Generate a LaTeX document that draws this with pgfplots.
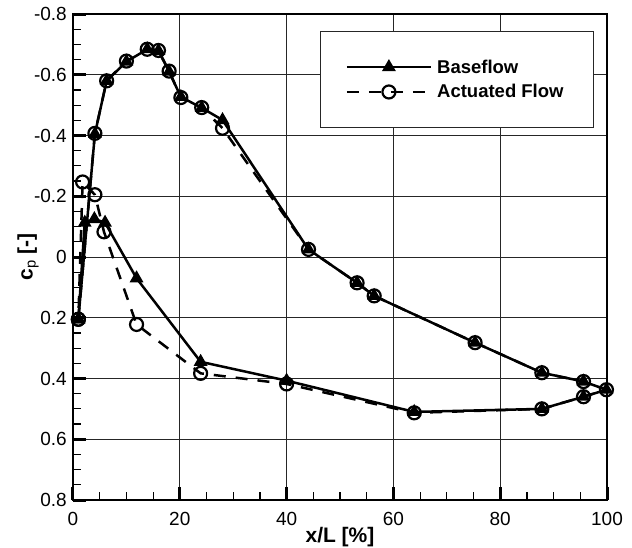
\documentclass[border=0pt]{standalone}
\usepackage{fontspec}
\setmainfont{Liberation Sans}
\usepackage{pgfplots}
\pgfplotsset{compat=1.18}
\begin{document}
\begin{tikzpicture}
\path[use as bounding box] (-73pt,-48pt) rectangle (559pt,500pt);
\begin{axis}[
  at={(0pt,0pt)}, anchor=south west,
  scale only axis, width=534pt, height=486pt,
  xmin=0, xmax=100, ymin=-0.8, ymax=0.8, y dir=reverse,
  clip=false,
  xtick={0,20,40,60,80,100}, xticklabels={0,20,40,60,80,100},
  ytick={-0.8,-0.6,-0.4,-0.2,0,0.2,0.4,0.6,0.8},
  yticklabels={-0.8,-0.6,-0.4,-0.2,0,0.2,0.4,0.6,0.8},
  minor x tick num=3, minor y tick num=3,
  tick align=inside, xtick pos=bottom, ytick pos=left,
  major tick length=13pt, minor tick length=8pt,
  every major tick/.append style={line width=3pt, black},
  every minor tick/.append style={line width=1.2pt, black},
  grid=major, major grid style={line width=1pt, black!85},
  axis line style={line width=2.8pt},
  tick label style={font=\fontsize{19}{21}\selectfont},
  xticklabel style={inner sep=0pt, anchor=north, yshift=-12pt},
  yticklabel style={inner sep=0pt, anchor=east, xshift=-6pt},
  xlabel={x/L [\%]},
  xlabel style={font=\fontsize{21}{23}\selectfont\bfseries, at={(axis description cs:0.5,0)}, anchor=north, inner sep=0pt, yshift=-27pt},
  ylabel={\textbf{c}\textsubscript{p} \textbf{[-]}},
  ylabel style={font=\fontsize{21}{23}\selectfont, at={(axis description cs:-0.0843,0.5)}, anchor=center, inner sep=0pt},
  legend style={at={(axis description cs:0.976,0.965)}, anchor=north east, draw=black!85, line width=1.2pt, fill=white,
    font=\fontsize{18.5}{20}\selectfont\bfseries, inner xsep=25pt, inner ysep=23pt,
    nodes={inner sep=5pt}, /tikz/every even column/.append style={column sep=14pt}},
  legend cell align=left,
  legend image code/.code={\draw[mark repeat=2,mark phase=2,#1] plot coordinates {(0pt,0pt) (42pt,0pt) (84pt,0pt)};},
]
\addplot[black, line width=2.5pt, mark=triangle*, mark size=5.5pt, mark options={fill=black, solid}] coordinates {
(1.0,0.205) (4.1,-0.405) (6.3,-0.58) (10.0,-0.643) (13.9,-0.684) (16.0,-0.679) (18.0,-0.61) (20.2,-0.527) (24.1,-0.491) (28.0,-0.451)
(44.1,-0.025) (53.2,0.085) (56.4,0.128) (75.3,0.282) (87.8,0.381) (95.6,0.41) (99.9,0.437)
(95.6,0.46) (87.8,0.50) (63.9,0.51) (40.0,0.407) (23.9,0.345) (11.9,0.07) (6.0,-0.113) (4.0,-0.125) (2.2,-0.113) (1.0,0.205)
};
\addlegendentry{Baseflow}
\addplot[black, line width=2.5pt, dash pattern=on 12pt off 10pt, mark=o, mark size=6.5pt, mark options={solid, line width=2.2pt}] coordinates {
(1.0,0.205) (4.1,-0.407) (6.3,-0.58) (10.0,-0.645) (13.9,-0.684) (16.0,-0.68) (18.0,-0.612) (20.2,-0.525) (24.1,-0.492) (28.0,-0.424)
(44.1,-0.025) (53.2,0.085) (56.4,0.128) (75.3,0.282) (87.8,0.381) (95.6,0.41) (99.9,0.437)
(95.6,0.46) (87.8,0.50) (63.9,0.513) (40.0,0.418) (23.9,0.383) (11.9,0.222) (5.8,-0.083) (4.1,-0.205) (1.8,-0.247) (1.0,0.205)
};
\addlegendentry{Actuated Flow}
\end{axis}
\end{tikzpicture}
\end{document}
